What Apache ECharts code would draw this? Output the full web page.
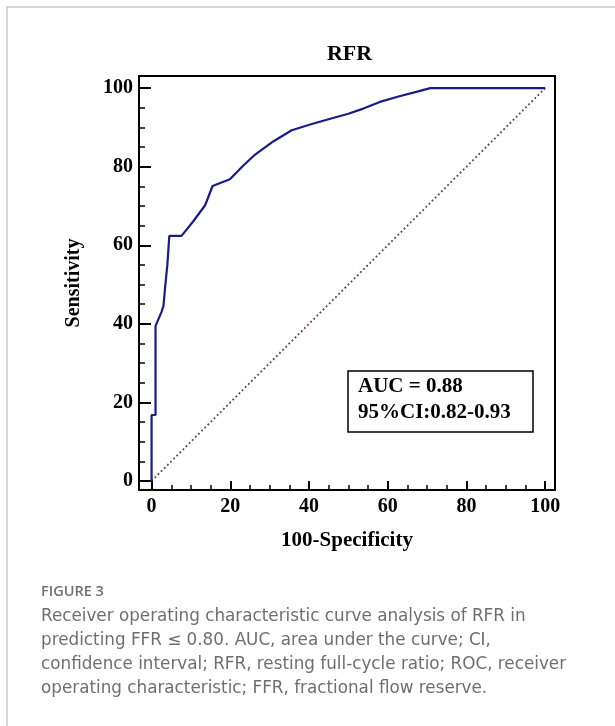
<!DOCTYPE html>
<html>
<head>
<meta charset="utf-8">
<script src="https://cdn.jsdelivr.net/npm/echarts@6/dist/echarts.min.js"></script>
<style>
  html, body { margin: 0; padding: 0; background: #fff; }
  #chart { width: 615px; height: 726px; }
</style>
</head>
<body>
<div id="chart"></div>
<script>
// ROC curve (100-specificity, sensitivity)
const rocFpr = [0, 0, 1, 1, 2.5, 3, 3.5, 4, 4.5, 7.6, 10.5, 13.6, 15.5, 19.9, 23, 26.3, 31, 35.6, 40.5, 45.4, 50, 53.8, 58, 63.2, 67, 70.8, 100];
const rocTpr = [0, 16.8, 16.8, 39.5, 43, 44.5, 50, 55, 62.4, 62.4, 66, 70.2, 75.1, 76.8, 80, 83.1, 86.5, 89.3, 90.8, 92.2, 93.5, 94.8, 96.5, 98, 99, 100, 100];
// reference (chance) line
const refX = [0, 100];
const refY = [0, 100];
const majorTicks = [0, 20, 40, 60, 80, 100];
const minorTicks = [5, 10, 15, 25, 30, 35, 45, 50, 55, 65, 70, 75, 85, 90, 95];
const aucLines = ["AUC = 0.88", "95%CI:0.82-0.93"];
const captionTitle = "FIGURE 3";
const captionLines = [
  "Receiver operating characteristic curve analysis of RFR in",
  "predicting FFR \u2264 0.80. AUC, area under the curve; CI,",
  "confidence interval; RFR, resting full-cycle ratio; ROC, receiver",
  "operating characteristic; FFR, fractional flow reserve."
];

const serif = "'Liberation Serif', 'Times New Roman', serif";
const sans = "'DejaVu Sans', 'Open Sans', sans-serif";

const rocData = rocFpr.map((x, i) => [x, rocTpr[i]]);
const refData = refX.map((x, i) => [x, refY[i]]);

function axisPair(min, max, major) {
  // first axis: line, major ticks, labels; second: minor ticks only
  return [
    Object.assign({
      type: "value",
      min: min,
      max: max,
      axisLine: { show: true, onZero: false, lineStyle: { color: "#000", width: 2 } },
      axisTick: { show: true, inside: true, customValues: majorTicks, lineStyle: { color: "#000", width: 2 } },
      axisLabel: {
        customValues: majorTicks,
        fontFamily: serif, fontSize: 20, fontWeight: "bold", color: "#000"
      },
      splitLine: { show: false },
      nameLocation: "middle",
      nameTextStyle: { fontFamily: serif, fontSize: 20, fontWeight: "bold", color: "#000" }
    }, major),
    {
      type: "value",
      min: min,
      max: max,
      position: major.position,
      axisLine: { show: false, onZero: false },
      axisTick: { show: true, inside: true, length: major.minorLen, customValues: minorTicks, lineStyle: { color: "#000", width: 1.5 } },
      axisLabel: { show: false },
      splitLine: { show: false }
    }
  ];
}

const xAxes = axisPair(-3.2, 102.5, { position: "bottom", minorLen: 5, name: "100-Specificity", nameGap: 40 });
xAxes[0].axisTick.length = 9;
xAxes[0].axisLabel.margin = 7;
xAxes[0].nameTextStyle.fontSize = 21;

const yAxes = axisPair(-2.3, 103.1, { position: "left", minorLen: 6, name: "Sensitivity", nameGap: 55 });
yAxes[0].axisTick.length = 12;
yAxes[0].axisLabel.margin = 6;

const chart = echarts.init(document.getElementById("chart"));
chart.setOption({
  animation: false,
  backgroundColor: "#fff",
  title: {
    text: "RFR",
    left: 349.5,
    top: 43,
    textAlign: "center",
    padding: 0,
    textStyle: { fontFamily: serif, fontSize: 22, fontWeight: "bold", color: "#000" }
  },
  grid: {
    left: 139, top: 76, right: 60, bottom: 236,
    show: true, borderColor: "#000", borderWidth: 2, containLabel: false
  },
  xAxis: xAxes,
  yAxis: yAxes,
  series: [
    {
      type: "line",
      data: refData,
      showSymbol: false,
      lineStyle: { color: "#6e3a3a", width: 1.8, type: [1.8, 2.6] },
      silent: true
    },
    {
      type: "line",
      data: rocData,
      showSymbol: false,
      lineStyle: { color: "#1b1b86", width: 2.2 },
      silent: true
    }
  ],
  graphic: [
    {
      type: "rect",
      shape: { x: 7, y: 7, width: 800, height: 900 },
      style: { fill: "none", stroke: "#c9c9c9", lineWidth: 1.5 },
      silent: true
    },
    {
      type: "rect",
      shape: { x: 348, y: 371, width: 185, height: 61 },
      style: { fill: "#fff", stroke: "#000", lineWidth: 1.5 },
      z: 10
    },
    {
      type: "text", x: 358, y: 387, z: 11,
      style: { text: aucLines[0], font: "bold 21px " + serif, fill: "#000", verticalAlign: "middle" }
    },
    {
      type: "text", x: 358, y: 413, z: 11,
      style: { text: aucLines[1], font: "bold 21px " + serif, fill: "#000", verticalAlign: "middle" }
    },
    {
      type: "text", x: 41, y: 592,
      style: { text: captionTitle, font: "600 14.5px 'Open Sans', sans-serif", fill: "#707070", verticalAlign: "middle" }
    }
  ].concat(captionLines.map((t, i) => ({
    type: "text", x: 41, y: 617 + i * 24,
    style: { text: t, font: "16.8px " + sans, fill: "#6e6e6e", verticalAlign: "middle" }
  })))
});
</script>
</body>
</html>
